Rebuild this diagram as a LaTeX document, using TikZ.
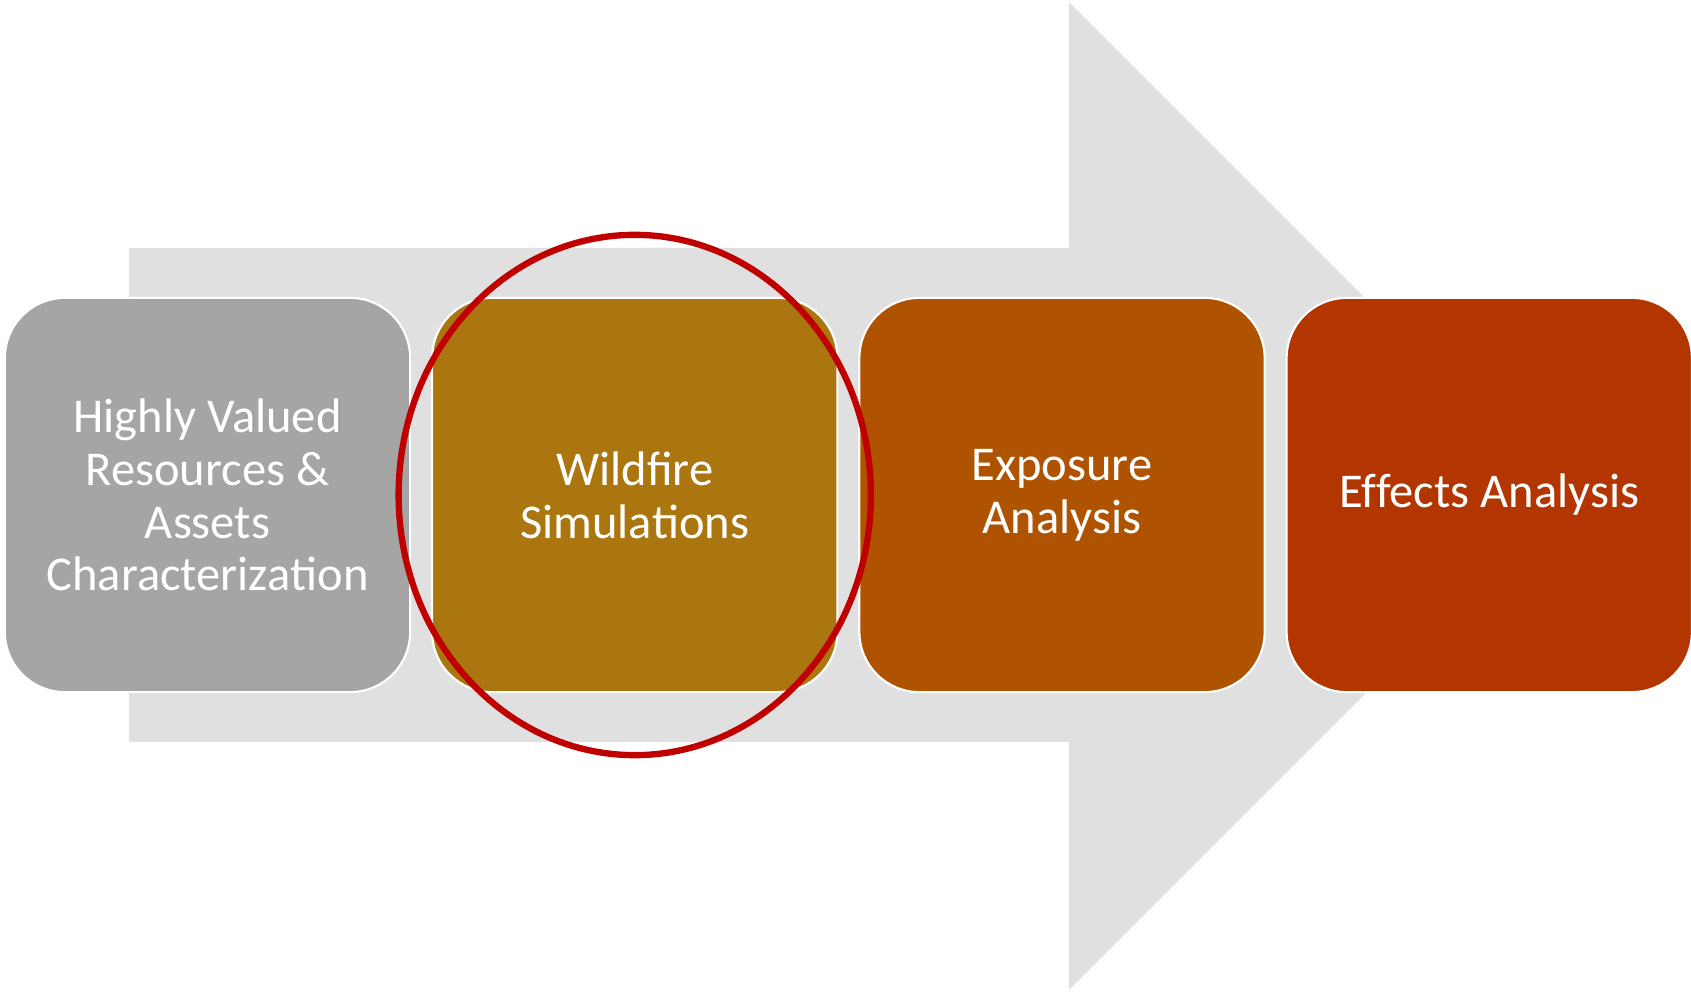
\documentclass[tikz,border=0pt]{standalone}
\usepackage{fontspec}
\setmainfont{Carlito}
\usepackage{tikz}
\usetikzlibrary{positioning,shapes.geometric}
\definecolor{arrowgray}{HTML}{E0E0E0}
\definecolor{hvragray}{HTML}{A5A5A5}
\definecolor{simgold}{HTML}{AB760F}
\definecolor{exporange}{HTML}{B05300}
\definecolor{effred}{HTML}{B33600}
\definecolor{ringred}{HTML}{C00000}
\newcommand\nolig{\kern0pt{}}
\tikzset{stepbox/.style={rounded corners=0.6cm,draw=white,line width=0.6pt,
    minimum width=4.05cm,minimum height=3.94cm,outer sep=0pt,align=center,
    text=white,font=\fontsize{13.8}{15}\selectfont}}

\begin{document}
\begin{tikzpicture}[x=0.01cm,y=-0.01cm,node distance=0.22cm]
      \useasboundingbox (0,0) rectangle (1691,995);
      % big arrow behind the steps
      \fill[arrowgray] (129,248) -- (1069,248) -- (1069,2) -- (1563,496)
        -- (1069,990) -- (1069,742) -- (129,742) -- cycle;

      \node[stepbox,fill=hvragray] at (207.5,495) (HVRA){Highly Valued\\Resources \&\\Assets\\Characteriza\nolig tion};
      \node[stepbox,fill=simgold,right=of HVRA](Sim){Wildfire\\Simula\nolig tions};
      \node[stepbox,fill=exporange,right=of Sim](Exp){Exposure\\Analysis};
      \node[stepbox,fill=effred,right=of Exp](Eff){Ef\nolig fects Analysis};

      \node[draw=ringred,line width=1.8pt,ellipse,minimum width=4.72cm,
        minimum height=5.2cm] at (Sim) (ring){};
    \end{tikzpicture}
\end{document}
